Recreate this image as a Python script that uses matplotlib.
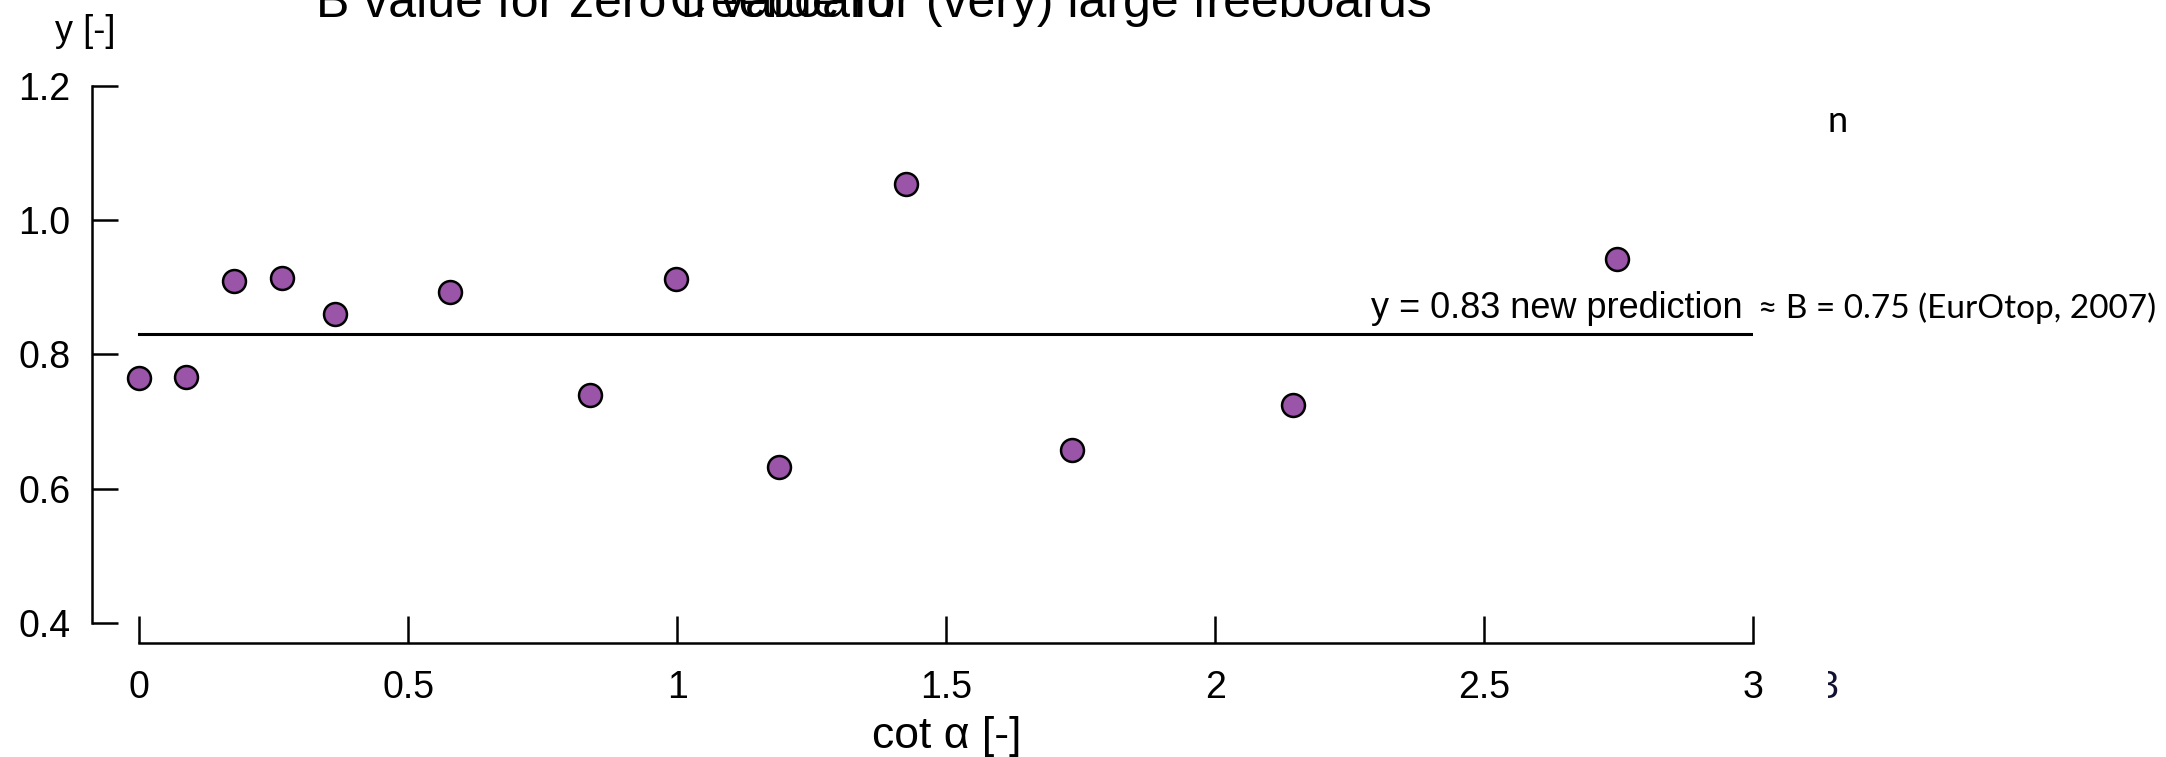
import matplotlib
matplotlib.use("Agg")
import matplotlib.pyplot as plt
from matplotlib.transforms import Bbox

# data
cot_alpha = [0.0, 0.087, 0.176, 0.266, 0.363, 0.577, 0.837, 0.998, 1.189, 1.425, 1.733, 2.144, 2.747]
y_vals = [0.765, 0.767, 0.909, 0.914, 0.860, 0.893, 0.739, 0.912, 0.632, 1.054, 0.658, 0.725, 0.942]
prediction = 0.83

x_ticks = [0, 0.5, 1, 1.5, 2, 2.5, 3]
x_tick_labels = ["0", "0.5", "1", "1.5", "2", "2.5", "3"]
y_ticks = [0.4, 0.6, 0.8, 1.0, 1.2]
y_tick_labels = ["0.4", "0.6", "0.8", "1.0", "1.2"]

title_1 = "B value for zero freeboard"
title_2 = "C value for (very) large freeboards"
pred_label = "y = 0.83 new prediction"
eurotop_label = "\u2248 B = 0.75 (EurOtop, 2007)"

plt.rcParams["font.family"] = ["Liberation Sans", "DejaVu Sans"]

W, H = 2166, 757
fig = plt.figure(figsize=(W / 100, H / 100), dpi=100)
ax = fig.add_axes([91.7 / W, 1 - 623.3 / H, (1753.3 - 91.7) / W, (623.3 - 85.6) / H])
ax.set_xlim(-0.0885, 3.0)
ax.set_ylim(0.4, 1.2)

# points + horizontal prediction line
ax.plot([x_ticks[0], x_ticks[-1]], [prediction, prediction], color="black", lw=2.2, zorder=2)
ax.plot(cot_alpha, y_vals, "o", ms=16.5, mfc="#9a54a8", mec="black", mew=1.8,
        clip_on=False, zorder=3)

# R-style detached axes
for side in ["top", "right"]:
    ax.spines[side].set_visible(False)
ax.spines["left"].set_bounds(0.4, 1.2)
ax.spines["left"].set_linewidth(1.8)
ax.spines["bottom"].set_position(("outward", 14.4))
ax.spines["bottom"].set_bounds(0, 3)
ax.spines["bottom"].set_linewidth(1.8)

ax.set_xticks(x_ticks)
ax.set_xticklabels(x_tick_labels)
ax.set_yticks(y_ticks)
ax.set_yticklabels(y_tick_labels)
ax.tick_params(axis="y", direction="in", length=18.5, width=1.8, pad=15.5, labelsize=27)
ax.tick_params(axis="x", direction="in", length=19.5, width=1.8, pad=19.5, labelsize=27)

ax.set_xlabel("cot \u03b1 [-]", fontsize=32)
ax.xaxis.set_label_coords((1.5 + 0.0885) / 3.0885, -0.172)

# annotations next to the line
ax.text(2.981, 0.854, pred_label, ha="right", va="baseline", fontsize=26)
ax.text(3.009, 0.854, eurotop_label, ha="left", va="baseline", fontsize=24,
        family=["Lato", "DejaVu Sans"])

# y label on top of the axis
fig.text(85.5 / W, 1 - 31.5 / H, "y [-]", ha="center", va="center", fontsize=26)

# overlapping titles, cut off at the top
fig.text(316 / W, 1 - 17 / H, title_1, ha="left", va="baseline", fontsize=36)
fig.text(670 / W, 1 - 17 / H, title_2, ha="left", va="baseline", fontsize=36)

# leftover fragments on the right side
fig.text(1828 / W, 1 - 132 / H, "n", ha="left", va="baseline", fontsize=26,
         family=["Lato", "DejaVu Sans"])
frag = fig.text(1818 / W, 1 - 698 / H, "3", ha="left", va="baseline", fontsize=27,
                color="#111133")
frag.set_clip_box(Bbox.from_extents(1828, 0, 1900, H))
frag.set_clip_on(True)

fig.savefig("out.png", dpi=100)
